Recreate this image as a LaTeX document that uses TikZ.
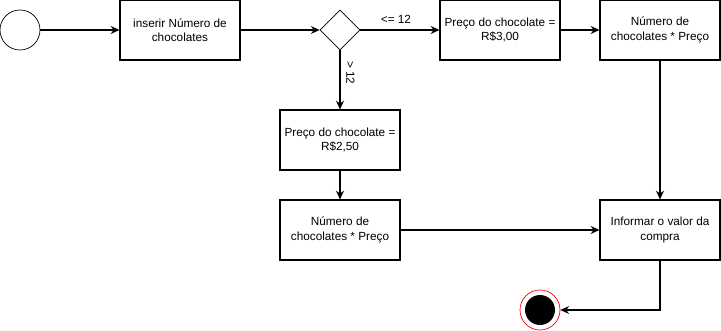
\documentclass[tikz,border=0pt]{standalone}
\usepackage{fontspec}
\setmainfont{Liberation Sans}
\usetikzlibrary{arrows.meta,shapes.geometric}
\tikzset{
    caixa/.style={draw,minimum width=2.4cm,minimum height=1.2cm,inner xsep=0pt,align=center,font=\fontsize{6.7}{8.2}\selectfont,line width=0.6pt},
    seta/.style={-{Stealth[length=5pt,width=4.5pt]},line width=0.6pt}
}
\begin{document}
\begin{tikzpicture}[x=0.02cm,y=-0.02cm]
        \useasboundingbox (0,0) rectangle (721,331);
        \node[draw,circle,minimum size=0.8cm,line width=0.4pt,inner sep=0pt] (inicio) at (20,30) {};
        \node[caixa] (entrada) at (180,30) {inserir Número de\\chocolates};
        \node[draw,diamond,minimum size=0.8cm,inner sep=0pt,line width=0.4pt] (teste) at (340,30) {};
        \node[caixa] (preco3) at (500,30) {Preço do chocolate =\\R\$3,00};
        \node[caixa] (conta3) at (660,30) {Número de\\chocolates * Preço};
        \node[caixa] (preco25) at (340,140) {Preço do chocolate =\\R\$2,50};
        \node[caixa] (conta25) at (340,230) {Número de\\chocolates * Preço};
        \node[caixa] (informar) at (660,230) {Informar o valor da\\compra};
        \node[draw=red,circle,minimum size=0.8cm,inner sep=0pt,line width=0.4pt] (fim) at (540,310) {};
        \fill[black] (fim.center) circle (0.3cm);
        \coordinate (canto) at (660,310);
        % ligacoes
        \draw[seta] (inicio) -- (entrada);
        \draw[seta] (entrada) -- (teste);
        \draw[seta] (teste) -- node[above,pos=0.45,font=\fontsize{6.7}{8.2}\selectfont] {<= 12} (preco3);
        \draw[seta] (preco3) -- (conta3);
        \draw[seta] (teste) -- node[pos=0.38,rotate=-90,anchor=south,font=\fontsize{6.7}{8.2}\selectfont] {> 12} (preco25);
        \draw[seta] (preco25) -- (conta25);
        \draw[seta] (conta25) -- (informar);
        \draw[seta] (conta3) -- (informar);
        \draw[seta] (informar) -- (canto) -- (fim);
    \end{tikzpicture}
\end{document}
